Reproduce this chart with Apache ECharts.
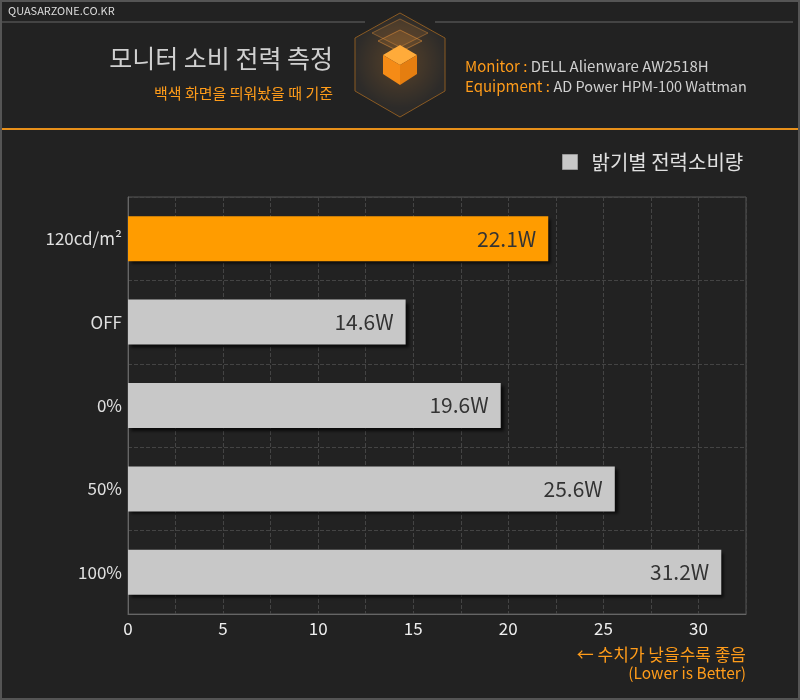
<!DOCTYPE html>
<html>
<head>
<meta charset="utf-8">
<script src="https://cdn.jsdelivr.net/npm/echarts@6/dist/echarts.min.js"></script>
<style>
html,body{margin:0;padding:0;background:#222;}
#main{width:800px;height:700px;}
</style>
</head>
<body>
<div id="main"></div>
<script>
var categories = ['120cd/m²', 'OFF', '0%', '50%', '100%'];
var values = [22.1, 14.6, 19.6, 25.6, 31.2];
var barColors = ['#ff9c00', '#c8c8c8', '#c8c8c8', '#c8c8c8', '#c8c8c8'];
var seriesName = '밝기별 전력소비량';

var font = '"Noto Sans CJK KR", "Noto Sans", sans-serif';

var barData = [];
for (var i = 0; i < values.length; i++) {
	barData.push({ value: values[i], itemStyle: { color: barColors[i] } });
}

// 헤더 큐브 아이콘
var cx = 400;
var cube = [
	{ type: 'circle', shape: { cx: cx, cy: 62, r: 46 }, style: { fill: new echarts.graphic.RadialGradient(0.5, 0.5, 0.5, [{ offset: 0, color: 'rgba(255,150,30,0.35)' }, { offset: 1, color: 'rgba(255,150,30,0)' }]) } },
	{ type: 'polygon', shape: { points: [[cx, 13], [cx + 45, 38], [cx + 45, 91], [cx, 117], [cx - 45, 91], [cx - 45, 38]] }, style: { fill: 'rgba(60,55,50,0.45)', stroke: '#8a5a22', lineWidth: 1 } },
	{ type: 'polygon', shape: { points: [[cx, 19], [cx + 28, 33], [cx, 47], [cx - 28, 33]] }, style: { fill: 'rgba(255,160,60,0.12)', stroke: 'rgba(255,160,60,0.35)', lineWidth: 1 } },
	{ type: 'polygon', shape: { points: [[cx, 30], [cx + 22, 41], [cx, 52], [cx - 22, 41]] }, style: { fill: 'rgba(255,160,60,0.15)', stroke: 'rgba(255,160,60,0.45)', lineWidth: 1 } },
	{ type: 'polygon', shape: { points: [[cx, 45], [cx + 17, 55], [cx, 65], [cx - 17, 55]] }, style: { fill: '#ffab3a' } },
	{ type: 'polygon', shape: { points: [[cx - 17, 55], [cx, 65], [cx, 85], [cx - 17, 74]] }, style: { fill: '#f58b16' } },
	{ type: 'polygon', shape: { points: [[cx + 17, 55], [cx, 65], [cx, 85], [cx + 17, 74]] }, style: { fill: '#e57e10' } }
];

var graphics = [
	{ type: 'rect', shape: { x: 1, y: 1, width: 798, height: 698 }, style: { fill: 'none', stroke: '#555', lineWidth: 2 }, z: 10 },
	{ type: 'line', shape: { x1: 2, y1: 22, x2: 365, y2: 22 }, style: { stroke: '#666', lineWidth: 1 } },
	{ type: 'line', shape: { x1: 435, y1: 22, x2: 793, y2: 22 }, style: { stroke: '#666', lineWidth: 1 } },
	{ type: 'line', shape: { x1: 0, y1: 129, x2: 800, y2: 129 }, style: { stroke: '#e8901a', lineWidth: 2 } },
	{ type: 'text', left: 8, top: 5, style: { text: 'QUASARZONE.CO.KR', fill: '#ddd', font: '11px ' + font } },
	{ type: 'text', style: { text: '모니터 소비 전력 측정', x: 333, y: 58, align: 'right', verticalAlign: 'middle', fill: '#d0d0d0', font: '25px ' + font } },
	{ type: 'text', style: { text: '백색 화면을 띄워놨을 때 기준', x: 333, y: 93, align: 'right', verticalAlign: 'middle', fill: '#ff9c1a', font: '15px ' + font } },
	{ type: 'text', style: { x: 465, y: 66, verticalAlign: 'middle', text: '{o|Monitor : }{w|DELL Alienware AW2518H}', rich: { o: { fill: '#ff9c1a', font: '15px ' + font }, w: { fill: '#d0d0d0', font: '15px ' + font } } } },
	{ type: 'text', style: { x: 465, y: 86, verticalAlign: 'middle', text: '{o|Equipment : }{w|AD Power HPM-100 Wattman}', rich: { o: { fill: '#ff9c1a', font: '15px ' + font }, w: { fill: '#d0d0d0', font: '14.5px ' + font } } } },
	{ type: 'text', style: { text: '← 수치가 낮을수록 좋음', x: 746, y: 655, align: 'right', verticalAlign: 'middle', fill: '#ff9c1a', font: '17px ' + font } },
	{ type: 'text', style: { text: '(Lower is Better)', x: 746, y: 673, align: 'right', verticalAlign: 'middle', fill: '#ff9c1a', font: '15.5px ' + font } }
].concat(cube);

var myChart = echarts.init(document.getElementById('main'));
var option = {
	backgroundColor: '#222',
	animation: false,
	textStyle: { fontFamily: font },
	graphic: graphics,
	legend: {
		left: 557, top: 147,
		icon: 'rect', itemWidth: 15, itemHeight: 15,
		itemStyle: { borderColor: '#999', borderWidth: 1, shadowBlur: 0, shadowOffsetX: 0, shadowOffsetY: 0 },
		textStyle: { color: '#e0e0e0', fontSize: 20, fontFamily: font, padding: [0, 0, 0, 9] },
		data: [seriesName]
	},
	grid: {
		left: 128, right: 54, top: 197, bottom: 86,
		show: true, borderColor: '#555', borderWidth: 1
	},
	xAxis: {
		type: 'value', min: 0, max: 32.5, interval: 2.5,
		axisLine: { show: true, lineStyle: { color: '#666' } },
		axisTick: { show: false },
		splitLine: { lineStyle: { color: '#444', type: 'dashed' } },
		axisLabel: {
			color: '#eee', fontSize: 17, margin: 6, showMaxLabel: false,
			formatter: function (v) { return v % 5 === 0 ? v : ''; }
		}
	},
	yAxis: {
		type: 'category', inverse: true, data: categories,
		axisLine: { show: true, lineStyle: { color: '#666' } },
		axisTick: { show: false },
		splitLine: { show: true, lineStyle: { color: '#444', type: 'dashed' } },
		axisLabel: { color: '#e0e0e0', fontSize: 17, margin: 6 }
	},
	series: [{
		name: seriesName,
		type: 'bar',
		barWidth: 45,
		data: barData,
		itemStyle: {
			color: '#c8c8c8',
			shadowColor: 'rgba(0,0,0,0.7)', shadowBlur: 3, shadowOffsetX: 3, shadowOffsetY: 3
		},
		label: {
			show: true, position: 'insideRight', distance: 12,
			color: '#333', fontSize: 21, fontFamily: font,
			formatter: '{c}W'
		}
	}]
};
myChart.setOption(option);
</script>
</body>
</html>
